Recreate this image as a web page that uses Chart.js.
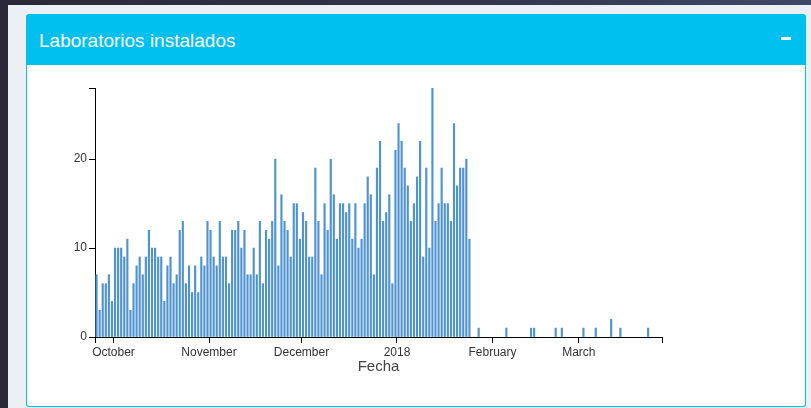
<!DOCTYPE html>
<html>
<head>
<meta charset="utf-8">
<script src="https://cdn.jsdelivr.net/npm/chart.js@4.4.1/dist/chart.umd.min.js"></script>
<style>
  html, body { margin: 0; padding: 0; }
  body {
    width: 811px; height: 408px; overflow: hidden; position: relative;
    background: linear-gradient(90deg, #2b2838 0%, #34354d 60%, #3b4a68 100%);
  }
  .contenido {
    position: absolute; left: 8px; top: 5px; right: 0; bottom: 0;
    background: #ecf0f5;
  }
  .caja {
    position: absolute; left: 26px; top: 14px; width: 778px; height: 390px;
    background: #fff; border: 1px solid #00c0ef; border-top-width: 2px;
    border-radius: 3px; box-sizing: content-box;
  }
  .cabecera {
    height: 49px; background: #00c0ef; position: relative;
  }
  .cabecera h3 {
    margin: 0; position: absolute; left: 12px; top: 13px;
    font-family: "Liberation Sans", sans-serif;
    font-size: 19px; font-weight: normal; color: #fff; line-height: 24px;
  }
  .cabecera .menos {
    position: absolute; right: 14px; top: 21px; width: 10px; height: 3px; background: #fff;
  }
  #myChart { position: absolute; left: 0; top: 0; z-index: 2; }
</style>
</head>
<body>
<div class="contenido"></div>
<div class="caja">
  <div class="cabecera"><h3>Laboratorios instalados</h3><span class="menos"></span></div>
</div>
<canvas id="myChart" width="811" height="408"></canvas>
<script>
// laboratorios instalados por dia, desde el 25 de septiembre (dias seguidos)
const inicioDiario = "2017-09-25";
const laboratoriosDiarios = [
  7, 3, 6, 6, 7, 4, 10, 10, 10, 9, 11, 3, 6, 8, 9, 7, 9, 12, 10, 10,
  9, 9, 4, 8, 9, 6, 7, 12, 13, 6, 8, 5, 8, 5, 9, 8, 13, 12, 9, 8, 13,
  9, 9, 6, 12, 12, 13, 10, 12, 7, 7, 10, 7, 13, 6, 12, 11, 13, 20, 8, 16,
  13, 12, 9, 15, 15, 11, 14, 13, 9, 9, 19, 13, 7, 15, 12, 20, 16, 11, 15, 15, 14,
  15, 11, 15, 10, 11, 15, 18, 16, 7, 19, 22, 13, 14, 16, 6, 21, 24, 22, 19, 17,
  13, 15, 18, 22, 9, 19, 10, 28, 13, 15, 19, 15, 15, 13, 24, 17, 19, 19, 20, 11
];

// dias sueltos de febrero y marzo
const fechasSueltas = ["2018-01-27", "2018-02-05", "2018-02-13", "2018-02-14", "2018-02-21",
  "2018-02-23", "2018-03-02", "2018-03-06", "2018-03-11", "2018-03-14", "2018-03-23"];
const laboratoriosSueltos = [1, 1, 1, 1, 1, 1, 1, 1, 2, 1, 1];

const fechaMinima = "2017-09-25";
const fechaMaxima = "2018-03-28";
const fechasTicks = ["2017-10-01", "2017-11-01", "2017-12-01", "2018-01-01", "2018-02-01", "2018-03-01"];
const etiquetasTicks = ["October", "November", "December", "2018", "February", "March"];
const ticksY = [0, 10, 20];
const maximoY = 28;

const DIA = 86400000;
const origen = Date.parse(fechaMinima + "T00:00:00Z");
function diaDe(fecha) {
  return (Date.parse(fecha + "T00:00:00Z") - origen) / DIA;
}

const puntos = [];
const desde = diaDe(inicioDiario);
laboratoriosDiarios.forEach((valor, i) => {
  puntos.push({ x: desde + i + 0.5, y: valor });
});
fechasSueltas.forEach((fecha, i) => {
  puntos.push({ x: diaDe(fecha) + 0.5, y: laboratoriosSueltos[i] });
});

const diasTicks = fechasTicks.map(diaDe);
const fuenteEjes = { family: "'Liberation Sans', Arial, sans-serif", size: 12 };

const ctx = document.getElementById("myChart").getContext("2d");
let chart = new Chart(ctx, {
  type: "bar",
  data: {
    datasets: [
      {
        label: "Laboratorios",
        data: puntos,
        backgroundColor: "#4f93d0",
        borderWidth: 0,
        barThickness: 1.5,
      },
    ],
  },
  options: {
    responsive: false,
    animation: false,
    devicePixelRatio: 1,
    layout: { padding: { left: 65, top: 88, right: 149, bottom: 32 } },
    plugins: { legend: { display: false }, tooltip: { enabled: false } },
    scales: {
      x: {
        type: "linear",
        min: 0,
        max: diaDe(fechaMaxima),
        offset: false,
        grid: { offset: false, drawOnChartArea: false, drawTicks: true, tickLength: 6, color: "#000" },
        border: { display: true, color: "#000" },
        ticks: {
          autoSkip: false,
          maxRotation: 0,
          padding: 2,
          color: "#333",
          font: fuenteEjes,
          callback: (v) => {
            const k = diasTicks.indexOf(v);
            return k >= 0 ? etiquetasTicks[k] : "";
          },
        },
        afterBuildTicks: (eje) => {
          eje.ticks = [0, ...diasTicks, diaDe(fechaMaxima)].map((v) => ({ value: v }));
        },
        afterFit: (eje) => {
          eje.height = 39;
        },
        title: {
          display: true,
          text: "Fecha",
          color: "#444",
          font: { family: "'Liberation Sans', Arial, sans-serif", size: 15 },
          padding: { top: 0, bottom: 0 },
        },
      },
      y: {
        min: 0,
        max: maximoY,
        grid: { drawOnChartArea: false, drawTicks: true, tickLength: 6, color: "#000" },
        border: { display: true, color: "#000" },
        ticks: {
          padding: 2,
          color: "#333",
          font: fuenteEjes,
          callback: (v) => (ticksY.includes(v) ? v : ""),
        },
        afterBuildTicks: (eje) => {
          eje.ticks = [...ticksY, maximoY].map((v) => ({ value: v }));
        },
        afterFit: (eje) => {
          eje.width = 30;
        },
      },
    },
  },
});
</script>
</body>
</html>
